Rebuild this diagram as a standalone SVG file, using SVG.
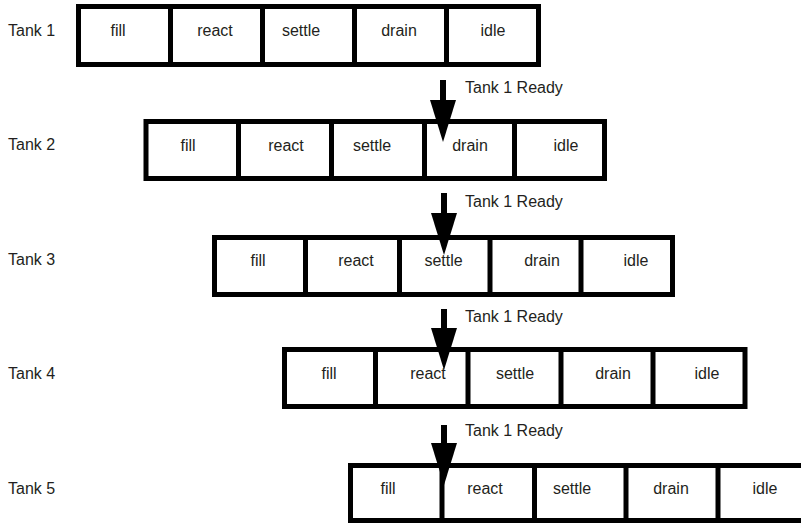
<svg xmlns="http://www.w3.org/2000/svg" width="801" height="523" viewBox="0 0 801 523">
<style>
  .box { fill: #ffffff; stroke: #000000; stroke-width: 5; }
  .div { stroke: #000000; stroke-width: 5; }
  text { font-family: "Liberation Sans", Arial, sans-serif; font-size: 16px; fill: #231f20; }
  .c { text-anchor: middle; }
  .arr { stroke: #000000; stroke-width: 6; fill: none; }
</style>
<defs>
  <marker id="head" markerUnits="userSpaceOnUse" viewBox="0 -13 42 26" refX="0" refY="0" markerWidth="42" markerHeight="26" orient="auto">
    <path d="M0,-13 L42,0 L0,13 z" fill="#000000"/>
  </marker>
</defs>
<rect width="801" height="523" fill="#ffffff"/>

<g id="tank1">
  <text x="8" y="36">Tank 1</text>
  <rect class="box" x="78.5" y="6.5" width="460" height="58"/>
  <line class="div" x1="170.5" y1="6.5" x2="170.5" y2="64.5"/>
  <line class="div" x1="262.5" y1="6.5" x2="262.5" y2="64.5"/>
  <line class="div" x1="354.5" y1="6.5" x2="354.5" y2="64.5"/>
  <line class="div" x1="446.5" y1="6.5" x2="446.5" y2="64.5"/>
  <text class="c" x="118" y="36">fill</text>
  <text class="c" x="215" y="36">react</text>
  <text class="c" x="301" y="36">settle</text>
  <text class="c" x="399" y="36">drain</text>
  <text class="c" x="493" y="36">idle</text>
</g>

<g id="tank2">
  <text x="8" y="150">Tank 2</text>
  <rect class="box" x="146" y="121.5" width="458.5" height="57"/>
  <line class="div" x1="238.5" y1="121.5" x2="238.5" y2="178.5"/>
  <line class="div" x1="331.5" y1="121.5" x2="331.5" y2="178.5"/>
  <line class="div" x1="424.5" y1="121.5" x2="424.5" y2="178.5"/>
  <line class="div" x1="514.5" y1="121.5" x2="514.5" y2="178.5"/>
  <text class="c" x="188" y="151">fill</text>
  <text class="c" x="286" y="151">react</text>
  <text class="c" x="372" y="151">settle</text>
  <text class="c" x="470" y="151">drain</text>
  <text class="c" x="566" y="151">idle</text>
</g>

<g id="tank3">
  <text x="8" y="265">Tank 3</text>
  <rect class="box" x="214.5" y="237.5" width="458" height="57"/>
  <line class="div" x1="305.5" y1="237.5" x2="305.5" y2="294.5"/>
  <line class="div" x1="399.5" y1="237.5" x2="399.5" y2="294.5"/>
  <line class="div" x1="490" y1="237.5" x2="490" y2="294.5"/>
  <line class="div" x1="581" y1="237.5" x2="581" y2="294.5"/>
  <text class="c" x="258" y="266">fill</text>
  <text class="c" x="356" y="266">react</text>
  <text class="c" x="443.5" y="266">settle</text>
  <text class="c" x="542" y="266">drain</text>
  <text class="c" x="636" y="266">idle</text>
</g>

<g id="tank4">
  <text x="8" y="379">Tank 4</text>
  <rect class="box" x="284.5" y="349.5" width="460.5" height="57"/>
  <line class="div" x1="375.5" y1="349.5" x2="375.5" y2="406.5"/>
  <line class="div" x1="468" y1="349.5" x2="468" y2="406.5"/>
  <line class="div" x1="561" y1="349.5" x2="561" y2="406.5"/>
  <line class="div" x1="653" y1="349.5" x2="653" y2="406.5"/>
  <text class="c" x="329" y="379">fill</text>
  <text class="c" x="428" y="379">react</text>
  <text class="c" x="515" y="379">settle</text>
  <text class="c" x="613" y="379">drain</text>
  <text class="c" x="707" y="379">idle</text>
</g>

<g id="tank5">
  <text x="8" y="494">Tank 5</text>
  <rect class="box" x="350.5" y="465.5" width="460" height="55"/>
  <line class="div" x1="442" y1="465.5" x2="442" y2="520.5"/>
  <line class="div" x1="534.5" y1="465.5" x2="534.5" y2="520.5"/>
  <line class="div" x1="626" y1="465.5" x2="626" y2="520.5"/>
  <line class="div" x1="718" y1="465.5" x2="718" y2="520.5"/>
  <text class="c" x="388" y="494">fill</text>
  <text class="c" x="485" y="494">react</text>
  <text class="c" x="572" y="494">settle</text>
  <text class="c" x="671" y="494">drain</text>
  <text class="c" x="765" y="494">idle</text>
</g>

<g id="connectors">
  <line class="arr" x1="443" y1="80" x2="443" y2="100" marker-end="url(#head)"/>
  <text x="465" y="93">Tank 1 Ready</text>
  <line class="arr" x1="444" y1="193" x2="444" y2="213" marker-end="url(#head)"/>
  <text x="465" y="207">Tank 1 Ready</text>
  <line class="arr" x1="444" y1="309" x2="444" y2="328" marker-end="url(#head)"/>
  <text x="465" y="322">Tank 1 Ready</text>
  <line class="arr" x1="444" y1="425" x2="444" y2="443" marker-end="url(#head)"/>
  <text x="465" y="436">Tank 1 Ready</text>
</g>
</svg>
